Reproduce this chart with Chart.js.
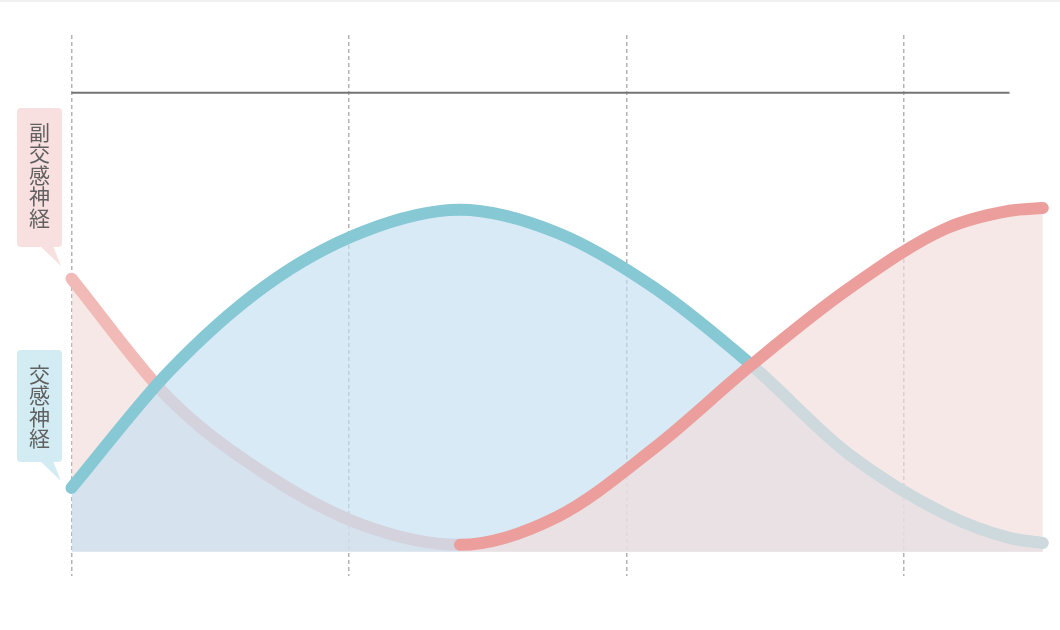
<!DOCTYPE html>
<html lang="ja">
<head>
<meta charset="utf-8">
<title>交感神経と副交感神経</title>
<script src="https://cdn.jsdelivr.net/npm/chart.js@4.4.1/dist/chart.umd.min.js"></script>
<style>
  html, body { margin: 0; padding: 0; background: #fff; }
  #wrap { position: relative; width: 1060px; height: 630px; }
</style>
</head>
<body>
<div id="wrap"><canvas id="nerveChart"></canvas></div>
<script>
// 横軸の位置（点線 = 0, 1, 2, 3）
const xPos = [0, 0.35, 0.70, 1.05, 1.40, 1.75, 2.10, 2.45, 2.80, 3.15, 3.38, 3.50];
// 交感神経（青）
const sympathetic = [13.9, 39.2, 58.0, 69.7, 74.5, 69.5, 57.5, 40.7, 21.3, 8.2, 3.0, 1.9];
// 副交感神経（ピンク）
const parasympathetic = [59.5, 33.5, 16.9, 5.8, 1.5, 7.6, 22.6, 40.7, 57.3, 70.4, 74.3, 74.9];
// 上の基準線
const refLineX = [0, 3.38];
const refLineY = 100;
const labelNames = ['副交感神経', '交感神経'];

const splitX = 1.40;  // 左右で重なり方が入れ替わる位置
const crossR = 2.45;  // 右の交点

const toPoints = values => values.map((v, i) => ({ x: xPos[i], y: v }));
const leftPart = (c, col) => c.p1.parsed.x <= splitX ? col : NONE;
const rightPart = (c, col) => c.p0.parsed.x >= splitX ? col : NONE;

const BLUE = '#87c8d5';
const BLUE_FADE = '#cdd9dc';
const PINK = '#eb9e9b';
const PINK_LIGHT = '#f1bab6';
const BLUE_FILL = 'rgba(197,224,240,0.67)';
const PINK_FILL = 'rgba(243,220,220,0.67)';
const NONE = 'rgba(0,0,0,0)';

const lineBase = {
  pointRadius: 0,
  borderWidth: 12,
  borderCapStyle: 'round',
  borderJoinStyle: 'round',
  cubicInterpolationMode: 'monotone',
  fill: false,
  clip: false
};
const fillBase = {
  pointRadius: 0,
  borderWidth: 0,
  borderColor: NONE,
  cubicInterpolationMode: 'monotone',
  fill: 'origin',
  clip: false
};

// 上の余白・吹き出しラベル
const calloutPlugin = {
  id: 'callouts',
  beforeDraw(chart) {
    const ctx = chart.ctx;
    ctx.save();
    ctx.fillStyle = '#f0f0f0';
    ctx.fillRect(0, 0, chart.width, 2);
    ctx.restore();
  },
  afterDraw(chart) {
    const ctx = chart.ctx;
    const boxes = [
      { text: labelNames[0], x: 17, y: 108, w: 45, h: 139, bg: '#f8e0e0', tail: [[40, 246], [53, 246], [61, 266]] },
      { text: labelNames[1], x: 17, y: 350, w: 45, h: 112, bg: '#d3ecf3', tail: [[40, 461], [53, 461], [61, 481]] }
    ];
    ctx.save();
    boxes.forEach(b => {
      ctx.fillStyle = b.bg;
      ctx.beginPath();
      ctx.roundRect(b.x, b.y, b.w, b.h, 4);
      ctx.fill();
      ctx.beginPath();
      ctx.moveTo(b.tail[0][0], b.tail[0][1]);
      ctx.lineTo(b.tail[1][0], b.tail[1][1]);
      ctx.lineTo(b.tail[2][0], b.tail[2][1]);
      ctx.closePath();
      ctx.fill();
      ctx.fillStyle = '#606060';
      ctx.font = '21px "Noto Sans CJK JP"';
      ctx.textAlign = 'center';
      ctx.textBaseline = 'middle';
      [...b.text].forEach((ch, i) => {
        ctx.fillText(ch, b.x + b.w / 2, b.y + 24 + i * 21.5);
      });
    });
    ctx.restore();
  }
};

const ctx = document.getElementById('nerveChart').getContext('2d');
new Chart(ctx, {
  type: 'line',
  data: {
    datasets: [
      // 基準線
      { data: refLineX.map(x => ({ x: x, y: refLineY })), borderColor: '#747474', borderWidth: 2,
        pointRadius: 0, fill: false, clip: false },
      // 副交感神経・右半分の線（一番上）
      { ...lineBase, data: toPoints(parasympathetic),
        segment: { borderColor: c => rightPart(c, PINK) } },
      // 交感神経の線（右の交点から先は薄く）
      { ...lineBase, data: toPoints(sympathetic),
        segment: { borderColor: c => c.p1.parsed.x <= crossR ? BLUE : BLUE_FADE } },
      // 副交感神経・右半分の塗り
      { ...fillBase, data: toPoints(parasympathetic),
        segment: { backgroundColor: c => rightPart(c, PINK_FILL) } },
      // 交感神経の塗り
      { ...fillBase, data: toPoints(sympathetic), backgroundColor: BLUE_FILL },
      // 副交感神経・左半分（線と塗り、一番下）
      { ...lineBase, fill: 'origin', data: toPoints(parasympathetic),
        segment: { borderColor: c => leftPart(c, PINK_LIGHT), backgroundColor: c => leftPart(c, PINK_FILL) } }
    ]
  },
  options: {
    responsive: true,
    maintainAspectRatio: false,
    animation: false,
    devicePixelRatio: 1,
    layout: { padding: { left: 71.5, right: 3.32, top: 35, bottom: 54 } },
    scales: {
      x: {
        type: 'linear',
        min: 0,
        max: 3.55,
        ticks: { stepSize: 1, display: false },
        afterBuildTicks: axis => {
          axis.ticks = axis.ticks.filter(t => Number.isInteger(t.value));
        },
        grid: { color: '#b3b3b3', lineWidth: 1.5, drawTicks: false },
        border: { display: false, dash: [4, 3] }
      },
      y: {
        display: false,
        min: -5.3,
        max: 112.6
      }
    },
    plugins: {
      legend: { display: false },
      tooltip: { enabled: false }
    }
  },
  plugins: [calloutPlugin]
});
</script>
</body>
</html>
